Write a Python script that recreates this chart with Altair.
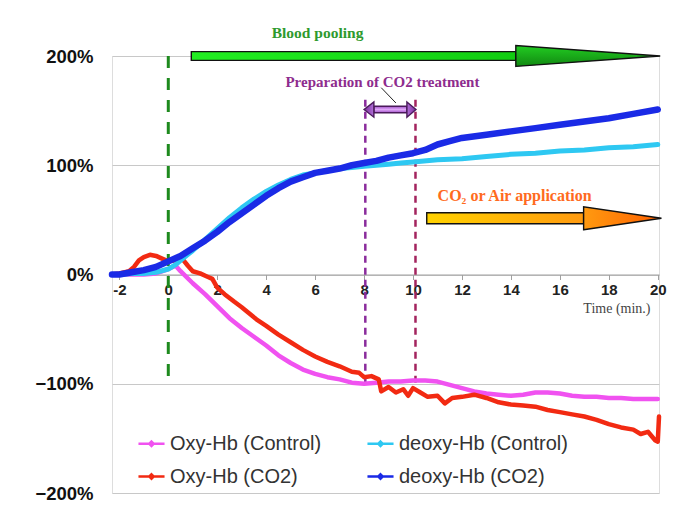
import altair as alt
import pandas as pd

# ---------------- data ----------------
series_names = ["Oxy-Hb (Control)", "Oxy-Hb (CO2)", "deoxy-Hb (Control)", "deoxy-Hb (CO2)"]
series_colors = ["#f052f0", "#f22a12", "#2ec8f2", "#1a2ae6"]

t_oxy_ctrl = [-2.3, -2, -1.5, -1, -0.5, 0, 0.3, 0.5, 1, 1.5, 2, 2.5, 3, 3.5, 4, 4.5, 5, 5.5, 6, 6.5,
              7, 7.5, 8, 8.5, 9, 9.5, 10, 10.5, 11, 11.5, 12, 12.5, 13, 13.5, 14, 14.5, 15, 15.5,
              16, 16.5, 17, 17.5, 18, 18.5, 19, 19.5, 20]
v_oxy_ctrl = [0, 0, 0, 0, 1, 5, 8, 3, -8, -18, -29, -40, -49, -57, -65, -74, -81, -87, -91, -94,
              -96, -99, -100, -99, -98, -98, -97, -97, -98, -101, -104, -107, -109, -110, -111, -110, -108, -108,
              -109, -111, -112, -112, -113, -113, -114, -114, -114]

t_deoxy_ctrl = [-2.3, -2, -1.5, -1, -0.5, 0, 0.3, 0.5, 1, 1.5, 2, 2.5, 3, 3.5, 4, 4.5, 5, 5.5, 6, 6.5,
                7, 7.5, 8, 8.5, 9, 9.5, 10, 11, 12, 13, 14, 15, 16, 17, 18, 19, 20]
v_deoxy_ctrl = [0, 0, 1, 1, 2, 5, 9, 13, 22, 32, 42, 52, 61, 69, 76, 82, 87, 91, 93, 95,
                97, 98, 99, 100, 101, 102, 103, 105, 106, 108, 110, 111, 113, 114, 116, 117, 119]

t_oxy_co2 = [-2.3, -2, -1.6, -1.4, -1.2, -1.0, -0.75, -0.5, -0.3, 0, 0.3, 0.55, 0.8, 1.0, 1.3, 1.6, 1.8,
             2.0, 2.3, 2.7, 3.0, 3.6, 4.0, 4.5, 5.0, 5.5, 6.0, 6.5, 7.0, 7.5, 7.8, 8.0, 8.3, 8.6, 8.7,
             9.0, 9.3, 9.6, 9.8, 10.0, 10.3, 10.6, 11.0, 11.3, 11.6, 12.0, 12.5, 13.0, 13.5, 14.0, 14.5,
             15.0, 15.5, 16.0, 16.5, 17.0, 17.5, 18.0, 18.5, 19.0, 19.3, 19.6, 19.9, 20.0, 20.05]
v_oxy_co2 = [0, 1, 3, 7, 13, 16, 18, 17, 15, 12, 13, 15, 8, 3, 1, -2, -4,
             -12, -18, -25, -30, -41, -47, -55, -62, -69, -75, -80, -84, -89, -90, -94, -93, -96, -107,
             -103, -108, -105, -111, -104, -108, -112, -111, -118, -113, -112, -110, -113, -117, -119, -120,
             -121, -124, -126, -128, -130, -133, -137, -140, -142, -146, -144, -152, -153, -130]

t_deoxy_co2 = [-2.3, -2, -1.5, -1, -0.5, 0, 0.5, 1, 1.5, 2, 2.5, 3, 3.5, 4, 4.5, 5, 5.5, 6, 6.5,
               7, 7.5, 8, 8.5, 9, 9.5, 10, 10.5, 11, 11.5, 12, 13, 14, 15, 16, 17, 18, 19, 20]
v_deoxy_co2 = [0, 0, 2, 4, 7, 12, 17, 24, 31, 39, 48, 56, 64, 72, 79, 85, 89, 93, 95,
               97, 100, 102, 104, 107, 109, 111, 114, 119, 122, 125, 128, 131, 134, 137, 140, 143, 147, 151]

x_ticks = [-2, 0, 2, 4, 6, 8, 10, 12, 14, 16, 18, 20]
y_ticks = [-200, -100, 0, 100, 200]

# ---------------- annotation geometry ----------------
blood_line = pd.DataFrame({"t": [0.0], "top": [200], "bottom": [-100]})
prep_line_l = pd.DataFrame({"t": [8.05], "top": [160], "bottom": [-100]})
prep_line_r = pd.DataFrame({"t": [10.1], "top": [160], "bottom": [-100]})

green_shaft = pd.DataFrame({"t": [0.94, 14.2], "a": [196, 196], "b": [204, 204]})
green_head = pd.DataFrame({"t": [14.2, 20.1], "a": [190.5, 200], "b": [209.5, 200]})
orange_shaft = pd.DataFrame({"t": [10.56, 16.97], "a": [46.5, 46.5], "b": [56.5, 56.5]})
orange_head = pd.DataFrame({"t": [16.97, 20.15], "a": [41, 51.5], "b": [62, 51.5]})
purple_l = pd.DataFrame({"t": [8.0, 8.4], "a": [151, 144], "b": [151, 158]})
purple_s = pd.DataFrame({"t": [8.4, 9.75], "a": [148, 148], "b": [154, 154]})
purple_r = pd.DataFrame({"t": [9.75, 10.12], "a": [144, 151], "b": [158, 151]})
leader = pd.DataFrame({"t": [8.7], "y": [171], "t2": [9.3], "y2": [157]})

txt_blood = pd.DataFrame({"t": [6.1], "y": [221], "label": ["Blood pooling"]})
txt_prep = pd.DataFrame({"t": [8.75], "y": [176], "label": ["Preparation of CO2 treatment"]})
txt_co2 = pd.DataFrame({"t": [14.15], "y": [71.5], "label": ["CO\u2082 or Air application"]})

# ---------------- chart ----------------
xs = alt.Scale(domain=[-2.3, 20.05], nice=False, zero=False)
ys = alt.Scale(domain=[-200, 200], nice=False, zero=False)

x_axis = alt.Axis(values=x_ticks, offset=-218.5, labelExpr="toString(datum.value)",
                  domainColor="#a0a0a0", tickColor="#a0a0a0", tickSize=5, grid=False,
                  labelFont="Liberation Sans", labelFontSize=15, labelFontWeight="bold",
                  labelColor="#222222", labelFlush=False, labelPadding=3,
                  title="Time (min.)", titleFont="Liberation Serif", titleFontSize=14,
                  titleFontWeight="normal", titleColor="#444444", titleX=538, titleY=34,
                  titleAlign="right", titleBaseline="middle")
y_axis = alt.Axis(values=y_ticks, labelExpr="(datum.value < 0 ? '\u2212' : '') + abs(datum.value) + '%'",
                  ticks=False, domain=False, grid=True, gridColor="#c8c8c8", gridWidth=1,
                  labelFont="Liberation Sans", labelFontSize=18.5, labelFontWeight="bold",
                  labelColor="#111111", labelPadding=19, title=None)

X = alt.X("t:Q", scale=xs, axis=x_axis)

legend = alt.Legend(orient="none", legendX=25, legendY=373, columns=2, title=None,
                    labelFont="Liberation Sans", labelFontSize=20, labelColor="#333333",
                    labelLimit=400,
                    symbolType="M-1,0H1M0,-0.17L0.17,0L0,0.17L-0.17,0Z",
                    symbolSize=680, symbolStrokeWidth=2.5, columnPadding=40, rowPadding=8,
                    labelOffset=4)
color = alt.Color("series:N", scale=alt.Scale(domain=series_names, range=series_colors), legend=legend)


def Yf(field):
    return alt.Y(field, scale=ys, axis=y_axis)


def series_df(name, ts, vs):
    return pd.DataFrame({"series": name, "t": ts, "v": vs, "o": list(range(len(ts)))})


def line_layer(name, ts, vs, w):
    return alt.Chart(series_df(name, ts, vs)).mark_line(
        strokeWidth=w, strokeJoin="round", strokeCap="round").encode(
        x=X, y=Yf("v:Q"), color=color, order="o:Q")


def area_layer(df, stops, stroke, vertical=False):
    grad = alt.Gradient(gradient="linear",
                        stops=[alt.GradientStop(color=c, offset=o) for o, c in stops],
                        x1=0, x2=0 if vertical else 1, y1=0, y2=1 if vertical else 0)
    return alt.Chart(df).mark_area(color=grad, stroke=stroke, strokeWidth=1.4).encode(
        x=X, y=Yf("a:Q"), y2="b:Q")


def vrule(df, col, width, dash):
    return alt.Chart(df).mark_rule(color=col, strokeWidth=width, strokeDash=dash).encode(
        x=X, y=Yf("top:Q"), y2="bottom:Q")


def text_layer(df, col, size):
    return alt.Chart(df).mark_text(
        font="Liberation Serif", fontSize=size, fontWeight="bold", color=col).encode(
        x=X, y=Yf("y:Q"), text="label:N")


lines = [
    line_layer("Oxy-Hb (Control)", t_oxy_ctrl, v_oxy_ctrl, 4.5),
    line_layer("Oxy-Hb (CO2)", t_oxy_co2, v_oxy_co2, 4.5),
    line_layer("deoxy-Hb (Control)", t_deoxy_ctrl, v_deoxy_ctrl, 5),
    line_layer("deoxy-Hb (CO2)", t_deoxy_co2, v_deoxy_co2, 6.5),
]

rules = [
    vrule(blood_line, "#1e8a1e", 3, [12, 10]),
    vrule(prep_line_l, "#8a2c9c", 2.5, [7, 5]),
    vrule(prep_line_r, "#a3245e", 2.5, [7, 5]),
]

leader_rule = alt.Chart(leader).mark_rule(color="#222222", strokeWidth=1).encode(
    x=X, y=Yf("y:Q"), x2="t2:Q", y2="y2:Q")

arrows = [
    area_layer(green_shaft, [(0, "#22ee22"), (1, "#11cc11")], "#111111"),
    area_layer(green_head, [(0, "#22cc22"), (1, "#118811")], "#111111", vertical=True),
    area_layer(orange_shaft, [(0, "#ffd200"), (1, "#ff9a10")], "#111111"),
    area_layer(orange_head, [(0, "#ff9a10"), (1, "#ff6000")], "#111111"),
    area_layer(purple_s, [(0, "#a050c8"), (0.5, "#e0a8f8"), (1, "#a050c8")], "#4a1a5a", vertical=True),
    area_layer(purple_l, [(0, "#7a2a9a"), (1, "#b070d8")], "#4a1a5a"),
    area_layer(purple_r, [(0, "#b070d8"), (1, "#7a2a9a")], "#4a1a5a"),
]

texts = [
    text_layer(txt_blood, "#2e9a2e", 15.5),
    text_layer(txt_prep, "#8e2c8e", 15),
    text_layer(txt_co2, "#ff6a20", 16),
]

chart = alt.layer(
    *rules, *lines, *arrows, leader_rule, *texts
).properties(
    width=547, height=437,
    autosize=alt.AutoSizeParams(type="none"),
    padding={"left": 104, "top": 48, "right": 20, "bottom": 10},
).configure_view(stroke="#9a9a9a", strokeWidth=1.3).configure(background="white")

chart.save("out.html", embed_options={"renderer": "svg", "actions": False})
